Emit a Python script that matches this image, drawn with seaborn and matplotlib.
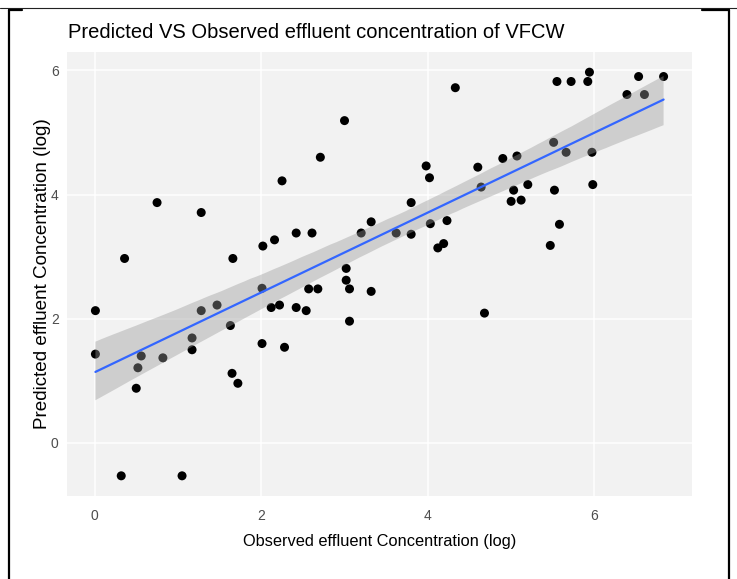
import numpy as np
import pandas as pd
import matplotlib
matplotlib.use("Agg")
import matplotlib.pyplot as plt
import seaborn as sns
from matplotlib.lines import Line2D

observed = [0.01, 0.01, 0.36, 0.52, 0.56, 0.50, 0.82, 0.32, 1.05, 1.17,
            1.17, 1.28, 1.47, 1.63, 1.66, 1.65, 1.72, 2.02, 2.16, 2.01,
            2.01, 2.12, 2.22, 2.42, 2.61, 2.42, 2.54, 2.57, 2.68, 2.28,
            3.02, 3.02, 3.06, 3.06, 3.32, 3.20, 3.32, 3.62, 3.80, 4.03,
            4.23, 4.12, 4.19, 5.58, 5.47, 4.68, 2.25, 2.71, 3.00, 4.33,
            3.98, 4.02, 4.60, 3.80, 0.75, 1.28, 4.64, 4.90, 5.07, 5.03,
            5.00, 5.12, 5.20, 5.51, 5.66, 5.52, 5.55, 5.72, 5.92, 5.94,
            5.97, 5.98, 6.39, 6.60, 6.53, 6.83]
predicted = [2.13, 1.43, 2.97, 1.21, 1.40, 0.88, 1.37, -0.53, -0.53, 1.69,
             1.50, 2.13, 2.22, 1.89, 2.97, 1.12, 0.96, 3.17, 3.27, 2.49,
             1.60, 2.18, 2.22, 3.38, 3.38, 2.18, 2.13, 2.48, 2.48, 1.54,
             2.81, 2.62, 2.48, 1.96, 2.44, 3.38, 3.56, 3.38, 3.36, 3.53,
             3.58, 3.14, 3.21, 3.52, 3.18, 2.09, 4.22, 4.60, 5.19, 5.72,
             4.46, 4.27, 4.44, 3.87, 3.87, 3.71, 4.12, 4.58, 4.62, 4.07,
             3.89, 3.91, 4.16, 4.84, 4.68, 4.07, 5.82, 5.82, 5.82, 5.97,
             4.68, 4.16, 5.61, 5.61, 5.90, 5.90]
ticks = [0, 2, 4, 6]
title = "Predicted VS Observed effluent concentration of VFCW"
xlabel = "Observed effluent Concentration (log)"
ylabel = "Predicted effluent Concentration (log)"

df = pd.DataFrame({"obs": observed, "pred": predicted})

sns.set_theme(style="darkgrid")
plt.rcParams["font.family"] = ["Liberation Sans", "DejaVu Sans"]

fig = plt.figure(figsize=(7.37, 5.79), dpi=100)
W, H = 737, 579
ax = fig.add_axes([67 / W, 1 - 496 / H, (692 - 67) / W, (496 - 52) / H])
ax.set_facecolor("#F2F2F2")

sns.scatterplot(data=df, x="obs", y="pred", ax=ax, color="black", s=42,
                edgecolor="none", zorder=2)
sns.regplot(data=df, x="obs", y="pred", ax=ax, scatter=False, ci=95,
            n_boot=2000, seed=3, truncate=True,
            line_kws={"color": "#3366FF", "lw": 1.6, "zorder": 4})
for coll in ax.collections[1:]:
    coll.set_alpha(None)
    coll.set_facecolor((0.6, 0.6, 0.6, 0.4))
    coll.set_edgecolor("none")
    coll.set_zorder(3)

xr = max(observed) - min(observed)
yr = max(predicted) - min(predicted)
ax.set_xlim(min(observed) - 0.05 * xr, max(observed) + 0.05 * xr)
ax.set_ylim(min(predicted) - 0.05 * yr, max(predicted) + 0.05 * yr)
ax.set_xticks(ticks)
ax.set_yticks(ticks)
ax.set_xticklabels([str(t) for t in ticks])
ax.set_yticklabels([str(t) for t in ticks])
ax.grid(True, color="white", lw=1.1)
for s in ax.spines.values():
    s.set_visible(False)
ax.tick_params(axis="both", length=3, width=0.8, color="#333333",
               labelcolor="#4D4D4D", labelsize=10, pad=3)
ax.tick_params(axis="x", pad=6)

ax.set_xlabel(xlabel, fontsize=11.8, color="black", labelpad=8)
ax.set_ylabel(ylabel, fontsize=13.6, color="black", labelpad=0)
fig.text(68 / W, 1 - 33 / H, title, fontsize=14.5, ha="left", va="center",
         color="black")

# surrounding table-cell borders
def fl(xs, ys, lw, c="black"):
    fig.add_artist(Line2D([x / W for x in xs], [1 - y / H for y in ys],
                          lw=lw, color=c, transform=fig.transFigure))

fl([0, 737], [8, 8], 0.8, "#222222")
fl([8.5, 8.5], [10, 579], 1.6)
fl([8.5, 22], [10, 10], 1.6)
fl([702, 729], [10, 10], 1.6)
fl([729, 729], [10, 579], 1.6)

fig.savefig("out.png", dpi=100)
